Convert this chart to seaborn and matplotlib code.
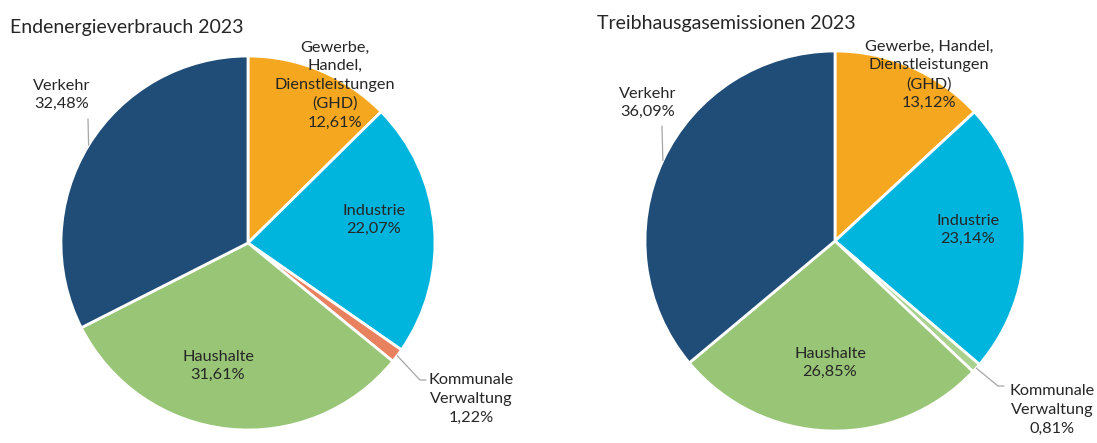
import numpy as np
import seaborn as sns
import matplotlib.pyplot as plt

# Daten
labels = ["GHD", "Industrie", "Kommunale Verwaltung", "Haushalte", "Verkehr"]
energie = [12.61, 22.07, 1.22, 31.61, 32.48]
emission = [13.12, 23.14, 0.81, 26.85, 36.09]
farben_energie = ["#F5A81F", "#00B5DD", "#E8825E", "#99C577", "#1F4D78"]
farben_emission = ["#F5A81F", "#00B5DD", "#A9D18E", "#99C577", "#1F4D78"]

sns.set_theme(style="white")
plt.rcParams['font.family'] = ['Lato', 'DejaVu Sans']

W, H = 1097, 443
fig = plt.figure(figsize=(W / 100, H / 100), dpi=100)
txt = "#262626"


def fmt(v):
    return f"{v:.2f}".replace(".", ",") + "%"


def pie_ax(cx, cy, r, werte, farben):
    ax = fig.add_axes([(cx - r) / W, (H - cy - r) / H, 2 * r / W, 2 * r / H])
    ax.pie(werte, colors=farben, startangle=90, counterclock=False, radius=1,
           wedgeprops=dict(edgecolor="white", linewidth=2))
    ax.set_xlim(-1, 1)
    ax.set_ylim(-1, 1)
    ax.set_aspect("auto")
    ax.axis("off")
    return ax


def label(x, y, s, size=11.7):
    fig.text(x / W, 1 - y / H, s, ha="center", va="center", fontsize=size,
             color=txt, linespacing=1.42)


def edge_point(werte, idx):
    cum = np.cumsum([0] + list(werte))
    mid = (cum[idx] + werte[idx] / 2) / sum(werte) * 360
    a = np.deg2rad(90 - mid)
    return np.cos(a), np.sin(a)


def leader(ax, cx, cy, r, werte, idx, punkte):
    x0, y0 = edge_point(werte, idx)
    xs = [x0] + [(px - cx) / r for px, py in punkte]
    ys = [y0] + [(cy - py) / r for px, py in punkte]
    ax.plot(xs, ys, color="#A6A6A6", lw=0.9, clip_on=False)


# Links: Endenergieverbrauch
cx1, cy1, r1 = 248, 243, 187
ax1 = pie_ax(cx1, cy1, r1, energie, farben_energie)
fig.text(10 / W, 1 - 27 / H, "Endenergieverbrauch 2023", ha="left", va="center",
         fontsize=14, color=txt)
label(335, 85, "Gewerbe,\nHandel,\nDienstleistungen\n(GHD)\n" + fmt(energie[0]))
label(374, 220, "Industrie\n" + fmt(energie[1]))
label(471, 399, "Kommunale\nVerwaltung\n" + fmt(energie[2]))
label(218, 366, "Haushalte\n" + fmt(energie[3]))
label(62, 95, "Verkehr\n" + fmt(energie[4]))
leader(ax1, cx1, cy1, r1, energie, 2, [(420, 380), (426, 380)])
leader(ax1, cx1, cy1, r1, energie, 4, [(88, 119)])

# Rechts: Treibhausgasemissionen
cx2, cy2, r2 = 835, 241, 190
ax2 = pie_ax(cx2, cy2, r2, emission, farben_emission)
fig.text(597 / W, 1 - 24 / H, "Treibhausgasemissionen 2023", ha="left", va="center",
         fontsize=14, color=txt)
label(929, 75, "Gewerbe, Handel,\nDienstleistungen\n(GHD)\n" + fmt(emission[0]))
label(968, 230, "Industrie\n" + fmt(emission[1]))
label(1052, 410, "Kommunale\nVerwaltung\n" + fmt(emission[2]))
label(830, 363, "Haushalte\n" + fmt(emission[3]))
label(648, 103, "Verkehr\n" + fmt(emission[4]))
leader(ax2, cx2, cy2, r2, emission, 2, [(998, 386), (1004, 386)])
leader(ax2, cx2, cy2, r2, emission, 4, [(662, 126)])

fig.savefig("out.png", dpi=100, facecolor="white")
